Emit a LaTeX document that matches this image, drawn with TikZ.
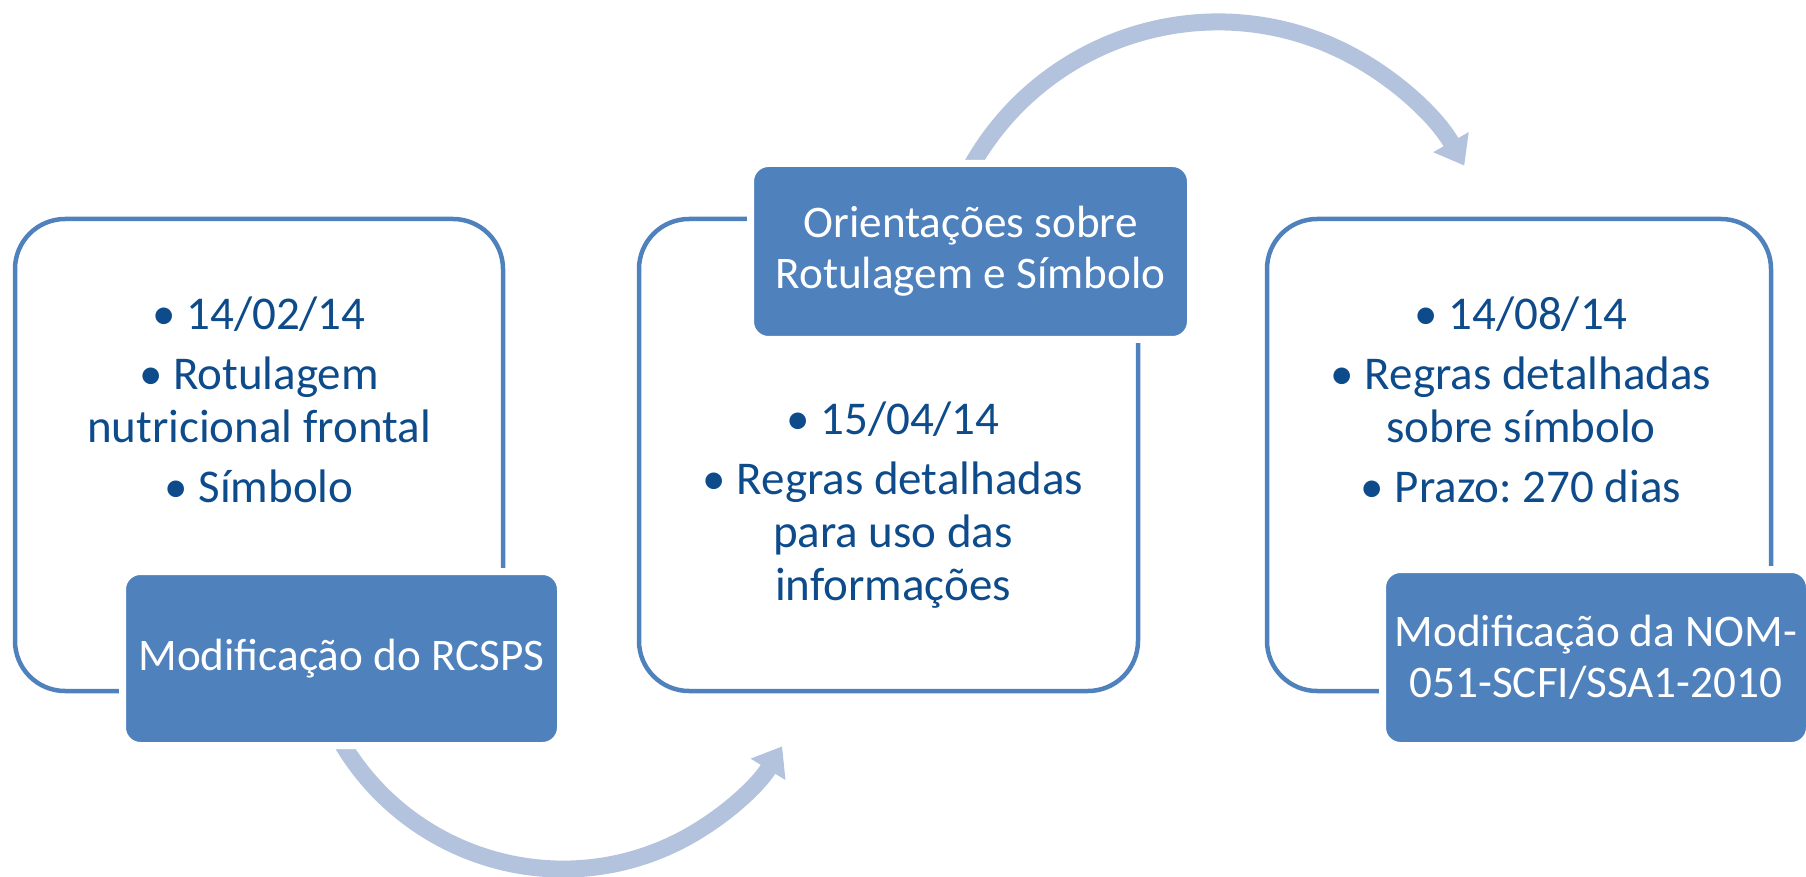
\documentclass[tikz,border=0pt]{standalone}
\usepackage{fontspec}
\setmainfont{Carlito}
\usetikzlibrary{arrows.meta}
\frenchspacing
\definecolor{accent}{HTML}{4F81BD}
\definecolor{bodytxt}{HTML}{0E4B8B}
\definecolor{arrowc}{HTML}{B3C3DE}
\tikzset{
  outl/.style={draw=accent, line width=2.25pt, rounded corners=25pt, inner sep=0pt},
  dark/.style={fill=accent, draw=white, line width=3.5pt, rounded corners=9pt, inner sep=0pt,
    text=white, align=center, font=\fontsize{22.6}{25.5}\selectfont},
  bodyt/.style={anchor=base, inner sep=0pt, text=bodytxt, font=\fontsize{23.5}{26.5}\selectfont},
  arr/.style={draw=arrowc, line width=8.5pt, -{Triangle[length=13.5pt, width=19.5pt]}}
}
\begin{document}
\begin{tikzpicture}[x=0.5pt, y=-0.5pt]
\useasboundingbox (0,0) rectangle (1806,877);
\clip (0,0) rectangle (1806,877);
% outline boxes
\node[outl, minimum width=244pt, minimum height=236pt] (o1) at (259,455) {};
\node[outl, minimum width=249.5pt, minimum height=236pt] (o2) at (888.5,455) {};
\node[outl, minimum width=252pt, minimum height=236pt] (o3) at (1519,455) {};
% body texts
\node[bodyt] (t1) at (259,330) {\begin{tabular}[t]{@{}c@{}}• 14/02/14\\[3.5pt] • Rotulagem\\ nutricional frontal\\[3.5pt] • Símbolo\end{tabular}};
\node[bodyt] (t2) at (893,435) {\begin{tabular}[t]{@{}c@{}}• 15/04/14\\[3.5pt] • Regras detalhadas\\ para uso das\\ informações\end{tabular}};
\node[bodyt] (t3) at (1521,330) {\begin{tabular}[t]{@{}c@{}}• 14/08/14\\[3.5pt] • Regras detalhadas\\ sobre símbolo\\[3.5pt] • Prazo: 270 dias\end{tabular}};
% arrows
\coordinate (a1s) at (336.1,732.7);
\coordinate (a2s) at (965.8,176.5);
\draw[arr] (a1s) arc[start angle=152, end angle=31.5, radius=257];
\draw[arr] (a2s) arc[start angle=207, end angle=330.5, radius=283];
% dark boxes
\node[dark, minimum width=219pt, minimum height=87pt] (d1) at (341.5,658.5) {Modificação do RCSPS};
\node[dark, minimum width=220pt, minimum height=88pt] (d2) at (970.5,251.5) {Orientações sobre\\ Rotulagem e Símbolo};
\node[dark, minimum width=213.5pt, minimum height=88pt] (d3) at (1596,657.5) {Modificação da NOM-\\ 051-SCFI/SSA1-2010};
\end{tikzpicture}
\end{document}
